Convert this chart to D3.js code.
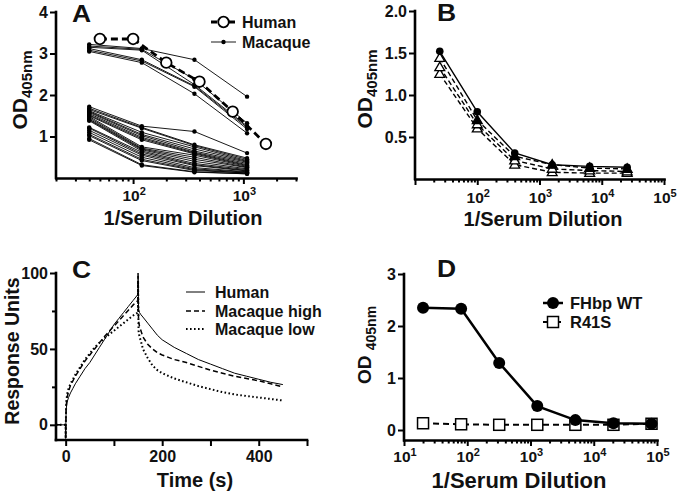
<!DOCTYPE html>
<html><head><meta charset="utf-8">
<script src="https://cdn.jsdelivr.net/npm/d3@7"></script>
<style>
html,body{margin:0;padding:0;background:#fff;}
svg text{font-family:"Liberation Sans",Arial,Helvetica,sans-serif;font-weight:bold;fill:#111;}
</style></head><body>
<svg id="chart" width="680" height="493"></svg>
<script>
// ---------- Panel A ----------
const aHumanDil = [50, 100, 200, 400, 800, 1600];
const aHumanOD = [3.35, 3.35, 2.78, 2.32, 1.60, 0.82];
const aMacaqueDil = [40, 120, 360, 1080];
const aMacaqueHigh = [
  [3.22, 3.12, 2.85, 1.96],
  [3.18, 3.10, 2.38, 1.32],
  [3.15, 3.08, 2.25, 1.25],
  [3.12, 2.85, 2.22, 1.22],
  [3.08, 2.82, 2.20, 1.18],
  [3.05, 2.78, 2.03, 1.08]
];
const aMacaqueLow = [
  [1.72, 1.25, 1.12, 0.60],
  [1.68, 1.22, 0.80, 0.48],
  [1.65, 1.20, 0.78, 0.45],
  [1.62, 1.10, 0.75, 0.42],
  [1.60, 1.05, 0.70, 0.40],
  [1.58, 1.02, 0.65, 0.38],
  [1.55, 0.98, 0.62, 0.35],
  [1.52, 0.95, 0.60, 0.32],
  [1.50, 0.92, 0.58, 0.30],
  [1.48, 0.75, 0.55, 0.28],
  [1.45, 0.72, 0.50, 0.26],
  [1.42, 0.70, 0.45, 0.25],
  [1.40, 0.68, 0.40, 0.22],
  [1.38, 0.65, 0.35, 0.20],
  [1.22, 0.62, 0.32, 0.18],
  [1.20, 0.58, 0.30, 0.17],
  [1.15, 0.55, 0.25, 0.15],
  [1.10, 0.50, 0.22, 0.14],
  [1.05, 0.45, 0.20, 0.12],
  [1.02, 0.42, 0.18, 0.12],
  [0.95, 0.32, 0.15, 0.10],
  [0.92, 0.30, 0.14, 0.10]
];
const aYTicks = [1, 2, 3, 4];
const aXLabels = [100, 1000];

// ---------- Panel B ----------
const bDil = [25, 100, 400, 1600, 6400, 25600];
const bCircle = [1.52, 0.80, 0.31, 0.17, 0.15, 0.14];
const bTriFilled = [1.44, 0.70, 0.27, 0.17, 0.13, 0.12];
const bTriOpen1 = [1.33, 0.65, 0.22, 0.12, 0.10, 0.09];
const bTriOpen2 = [1.25, 0.60, 0.17, 0.08, 0.07, 0.07];
const bYTicks = [0.5, 1.0, 1.5, 2.0];
const bXLabels = [100, 1000, 10000, 100000];

// ---------- Panel C ----------
const cTime = [-20,0,0,1,3,6,10,15,20,30,40,50,60,70,80,90,100,110,120,130,140,150,150,151,153,156,160,170,180,190,200,225,250,275,300,325,350,375,400,425,450];
const cHuman = [0,0,-9,10,15,18,21,24,27,32,37,41,46,51,56,61,66,70,74,78,82,86,100,76,74,72.5,71,67,63,59,56,51,47,43,40,37,34,32,30,28,26.5];
const cMacaqueHigh = [0,0,-9,12,18,22,26,29,32,37,42,46,50,54,58,61.5,65,68.5,72,75.5,79,82,98,68,65,62,58,53,50,47.5,46,43,41,38.5,36,34,32,30.5,29,27,25];
const cMacaqueLow = [0,0,-9,14,20,24,27,30,33,38,43,47,51,54,57,59.5,62,64.5,67,69.5,72,74,95,62,58,55,50,44,39,36,34,30.5,28,25.5,23.5,21.5,20,19,18,17,16];
const cYTicks = [0, 50, 100];
const cYMinor = [25, 75];
const cXTicks = [0, 100, 200, 300, 400, 500];
const cXLabels = [0, 200, 400];

// ---------- Panel D ----------
const dDil = [20, 80, 320, 1280, 5120, 20480, 81920];
const dWT = [2.35, 2.33, 1.29, 0.46, 0.19, 0.13, 0.12];
const dR41S = [0.13, 0.11, 0.10, 0.10, 0.10, 0.10, 0.12];
const dYTicks = [0, 1, 2, 3];
const dXLabels = [10, 100, 1000, 10000, 100000];

const svg = d3.select("#chart");
svg.append("rect").attr("width", 680).attr("height", 493).attr("fill", "#fff");

const AX = 2.6;
const TICKFONT = 16;
const XTICKFONT = 15.5;
const LEGFONT = 16;

function styleAxis(g) {
  g.select(".domain").attr("stroke", "#000").attr("stroke-width", AX).attr("stroke-linecap", "square");
  g.selectAll(".tick line").attr("stroke", "#000").attr("stroke-width", 2);
  g.selectAll(".tick text").attr("font-size", TICKFONT).attr("fill", "#111")
    .style("font-family", '"Liberation Sans", Arial, sans-serif').style("font-weight", "bold");
}

function logTicks(min, max) {
  const t = [];
  for (let d = Math.floor(Math.log10(min)); d <= Math.ceil(Math.log10(max)); d++) {
    for (let m = 1; m <= 9; m++) {
      const v = m * Math.pow(10, d);
      if (v >= min * 0.999 && v <= max * 1.001) t.push(v);
    }
  }
  return t;
}

function logXAxis(x, y0, labels, labelGap) {
  const [lo, hi] = x.domain();
  const ticks = logTicks(lo, hi);
  const g = svg.append("g").attr("transform", `translate(0,${y0})`)
    .call(d3.axisBottom(x).tickValues(ticks).tickSize(6).tickSizeOuter(0).tickFormat(""));
  styleAxis(g);
  g.selectAll(".tick line").attr("y2", d => {
    const l = Math.log10(d);
    return Math.abs(l - Math.round(l)) < 1e-6 ? 6 : 3.5;
  });
  labels.forEach(v => {
    const e = Math.round(Math.log10(v));
    const t = g.append("text").attr("x", x(v) + 1).attr("y", labelGap).attr("text-anchor", "middle").attr("font-size", XTICKFONT);
    t.append("tspan").text("10");
    t.append("tspan").attr("font-size", 11).attr("dy", -6).text(e);
  });
  return g;
}

function panelLetter(txt, x, y) {
  svg.append("text").attr("transform", `translate(${x},${y}) scale(1.15,1)`).attr("font-size", 23).text(txt);
}

function odLabel(x, y, size, subSize, space) {
  const t = svg.append("text").attr("transform", `translate(${x},${y}) rotate(-90)`).attr("text-anchor", "middle");
  t.append("tspan").attr("font-size", size).text("OD" + (space ? " " : ""));
  t.append("tspan").attr("font-size", subSize).attr("dy", 5).text("405nm");
}

// ================= Panel A =================
{
  const x = d3.scaleLog().domain([20, 3000]).range([56, 296]);
  const y = d3.scaleLinear().domain([0, 4]).range([178, 12]);
  const gy = svg.append("g").attr("transform", "translate(56,0)")
    .call(d3.axisLeft(y).tickValues(aYTicks).tickSize(6).tickSizeOuter(0).tickPadding(2).tickFormat(d3.format("d")));
  styleAxis(gy);
  gy.select(".domain").attr("d", `M0,${y(0)}V${y(4)}`);
  logXAxis(x, 178, aXLabels, 23);

  const line = d3.line().x((d, i) => x(aMacaqueDil[i])).y(d => y(d));
  const all = aMacaqueHigh.concat(aMacaqueLow);
  svg.append("g").selectAll("path").data(all).join("path")
    .attr("d", d => line(d)).attr("fill", "none").attr("stroke", "#000").attr("stroke-width", 0.9);
  all.forEach(s => {
    svg.append("g").selectAll("circle").data(s).join("circle")
      .attr("cx", (d, i) => x(aMacaqueDil[i])).attr("cy", d => y(d)).attr("r", 2.2).attr("fill", "#000");
  });

  const hl = d3.line().x((d, i) => x(aHumanDil[i])).y(d => y(d));
  svg.append("path").attr("d", hl(aHumanOD)).attr("fill", "none").attr("stroke", "#000")
    .attr("stroke-width", 2.8).attr("stroke-dasharray", "7,4");
  svg.append("g").selectAll("circle").data(aHumanOD).join("circle")
    .attr("cx", (d, i) => x(aHumanDil[i])).attr("cy", d => y(d)).attr("r", 5.3)
    .attr("fill", "#fff").attr("stroke", "#000").attr("stroke-width", 1.8);

  // legend
  svg.append("line").attr("x1", 211).attr("x2", 236).attr("y1", 22).attr("y2", 22)
    .attr("stroke", "#000").attr("stroke-width", 2.8).attr("stroke-dasharray", "6,3");
  svg.append("circle").attr("cx", 223.5).attr("cy", 22).attr("r", 5.3).attr("fill", "#fff").attr("stroke", "#000").attr("stroke-width", 1.8);
  svg.append("text").attr("x", 242).attr("y", 28).attr("font-size", LEGFONT).text("Human");
  svg.append("line").attr("x1", 211).attr("x2", 236).attr("y1", 42).attr("y2", 42).attr("stroke", "#000").attr("stroke-width", 0.9);
  svg.append("circle").attr("cx", 223.5).attr("cy", 42).attr("r", 2.2).attr("fill", "#000");
  svg.append("text").attr("x", 242).attr("y", 48).attr("font-size", LEGFONT).text("Macaque");

  panelLetter("A", 72, 22);
  odLabel(27, 90, 21, 15, false);
  svg.append("text").attr("x", 183).attr("y", 225).attr("text-anchor", "middle").attr("font-size", 20).text("1/Serum Dilution");
}

// ================= Panel B =================
{
  const x = d3.scaleLog().domain([10, 100000]).range([415, 664]);
  const y = d3.scaleLinear().domain([0, 2]).range([179, 11]);
  const gy = svg.append("g").attr("transform", "translate(415,0)")
    .call(d3.axisLeft(y).tickValues(bYTicks).tickSize(6).tickSizeOuter(0).tickPadding(2).tickFormat(d3.format(".1f")));
  styleAxis(gy);
  gy.select(".domain").attr("d", `M0,${y(0)}V${y(2)}`);
  logXAxis(x, 179, bXLabels, 24);

  const line = d3.line().x((d, i) => x(bDil[i])).y(d => y(d));
  const series = [
    {v: bCircle, dash: null, sym: "circle"},
    {v: bTriFilled, dash: "5,3", sym: "triF"},
    {v: bTriOpen1, dash: "5,3", sym: "triO"},
    {v: bTriOpen2, dash: "5,3", sym: "triO"}
  ];
  series.forEach(s => {
    svg.append("path").attr("d", line(s.v)).attr("fill", "none").attr("stroke", "#000")
      .attr("stroke-width", 1.4).attr("stroke-dasharray", s.dash);
  });
  series.slice().reverse().forEach(s => {
    const g = svg.append("g");
    if (s.sym === "circle") {
      g.selectAll("circle").data(s.v).join("circle").attr("cx", (d, i) => x(bDil[i])).attr("cy", d => y(d))
        .attr("r", 3.8).attr("fill", "#000");
    } else {
      g.selectAll("path").data(s.v).join("path")
        .attr("transform", (d, i) => `translate(${x(bDil[i])},${y(d) + 0.5})`)
        .attr("d", d3.symbol(d3.symbolTriangle, 42)())
        .attr("fill", (d, i) => (s.sym === "triF" && i > 0) ? "#000" : "#fff").attr("stroke", "#000").attr("stroke-width", 1.3);
    }
  });

  panelLetter("B", 437, 21);
  odLabel(372, 89, 21, 15, false);
  svg.append("text").attr("x", 543).attr("y", 226).attr("text-anchor", "middle").attr("font-size", 20).text("1/Serum Dilution");
}

// ================= Panel C =================
{
  const x = d3.scaleLinear().domain([-20, 500]).range([56, 307]);
  const y = d3.scaleLinear().domain([-10, 100]).range([440, 273]);
  const gy = svg.append("g").attr("transform", "translate(56,0)")
    .call(d3.axisLeft(y).tickValues(cYTicks.concat(cYMinor)).tickSize(6).tickSizeOuter(0).tickPadding(2)
      .tickFormat(d => cYTicks.includes(d) ? d : ""));
  styleAxis(gy);
  gy.select(".domain").attr("d", `M0,${y(-10)}V${y(100)}`);
  gy.selectAll(".tick line").attr("x2", d => cYTicks.includes(d) ? -6 : -4);

  const gx = svg.append("g").attr("transform", "translate(0,440)")
    .call(d3.axisBottom(x).tickValues(cXTicks).tickSize(6).tickSizeOuter(0).tickPadding(5)
      .tickFormat(d => cXLabels.includes(d) ? d : ""));
  styleAxis(gx);
  gx.select(".domain").attr("d", `M${x(-20)},0H${x(500)}`);

  const line = d3.line().x((d, i) => x(cTime[i])).y(d => y(d));
  svg.append("path").attr("d", line(cMacaqueLow)).attr("fill", "none").attr("stroke", "#000")
    .attr("stroke-width", 2).attr("stroke-dasharray", "1.6,2.4");
  svg.append("path").attr("d", line(cMacaqueHigh)).attr("fill", "none").attr("stroke", "#000")
    .attr("stroke-width", 1.5).attr("stroke-dasharray", "5,3");
  svg.append("path").attr("d", line(cHuman)).attr("fill", "none").attr("stroke", "#000")
    .attr("stroke-width", 1);

  // legend
  const lx1 = 186, lx2 = 205, tx = 215;
  svg.append("line").attr("x1", lx1).attr("x2", lx2).attr("y1", 292).attr("y2", 292).attr("stroke", "#000").attr("stroke-width", 1);
  svg.append("text").attr("x", tx).attr("y", 298).attr("font-size", LEGFONT).text("Human");
  svg.append("line").attr("x1", lx1).attr("x2", lx2).attr("y1", 311).attr("y2", 311).attr("stroke", "#000").attr("stroke-width", 1.5).attr("stroke-dasharray", "5,3");
  svg.append("text").attr("x", tx).attr("y", 317).attr("font-size", LEGFONT).text("Macaque high");
  svg.append("line").attr("x1", lx1).attr("x2", lx2).attr("y1", 329).attr("y2", 329).attr("stroke", "#000").attr("stroke-width", 2).attr("stroke-dasharray", "1.6,2.4");
  svg.append("text").attr("x", tx).attr("y", 335).attr("font-size", LEGFONT).text("Macaque low");

  panelLetter("C", 72, 278);
  svg.append("text").attr("transform", "translate(19,351) rotate(-90)").attr("text-anchor", "middle").attr("font-size", 19.5).text("Response Units");
  svg.append("text").attr("x", 195).attr("y", 487).attr("text-anchor", "middle").attr("font-size", 20).text("Time (s)");
}

// ================= Panel D =================
{
  const x = d3.scaleLog().domain([10, 100000]).range([404, 657]);
  const y = d3.scaleLinear().domain([-0.2, 3]).range([440.4, 274]);
  const gy = svg.append("g").attr("transform", "translate(404,0)")
    .call(d3.axisLeft(y).tickValues(dYTicks).tickSize(6).tickSizeOuter(0).tickPadding(2).tickFormat(d3.format("d")));
  styleAxis(gy);
  gy.select(".domain").attr("d", `M0,${y(-0.2)}V${y(3)}`);
  logXAxis(x, 440, dXLabels, 22);

  const line = d3.line().x((d, i) => x(dDil[i])).y(d => y(d));
  svg.append("path").attr("d", line(dR41S)).attr("fill", "none").attr("stroke", "#000")
    .attr("stroke-width", 2).attr("stroke-dasharray", "6,4");
  svg.append("path").attr("d", line(dWT)).attr("fill", "none").attr("stroke", "#000").attr("stroke-width", 2.5);
  svg.append("g").selectAll("rect").data(dR41S).join("rect")
    .attr("x", (d, i) => x(dDil[i]) - 5.5).attr("y", d => y(d) - 5.5).attr("width", 11).attr("height", 11)
    .attr("fill", "#fff").attr("stroke", "#000").attr("stroke-width", 1.5);
  svg.append("g").selectAll("circle").data(dWT).join("circle")
    .attr("cx", (d, i) => x(dDil[i])).attr("cy", d => y(d)).attr("r", 6).attr("fill", "#000");

  // legend
  svg.append("line").attr("x1", 543).attr("x2", 563).attr("y1", 303).attr("y2", 303).attr("stroke", "#000").attr("stroke-width", 2.5);
  svg.append("circle").attr("cx", 553).attr("cy", 303).attr("r", 6).attr("fill", "#000");
  svg.append("text").attr("x", 570).attr("y", 309).attr("font-size", 16.5).text("FHbp WT");
  svg.append("line").attr("x1", 543).attr("x2", 563).attr("y1", 322).attr("y2", 322).attr("stroke", "#000").attr("stroke-width", 2).attr("stroke-dasharray", "4,3");
  svg.append("rect").attr("x", 547.5).attr("y", 316.5).attr("width", 11).attr("height", 11).attr("fill", "#fff").attr("stroke", "#000").attr("stroke-width", 1.5);
  svg.append("text").attr("x", 570).attr("y", 328).attr("font-size", 16.5).text("R41S");

  panelLetter("D", 437, 277);
  odLabel(371, 345, 19, 14, true);
  svg.append("text").attr("x", 519).attr("y", 488).attr("text-anchor", "middle").attr("font-size", 22).text("1/Serum Dilution");
}
</script>
</body></html>
